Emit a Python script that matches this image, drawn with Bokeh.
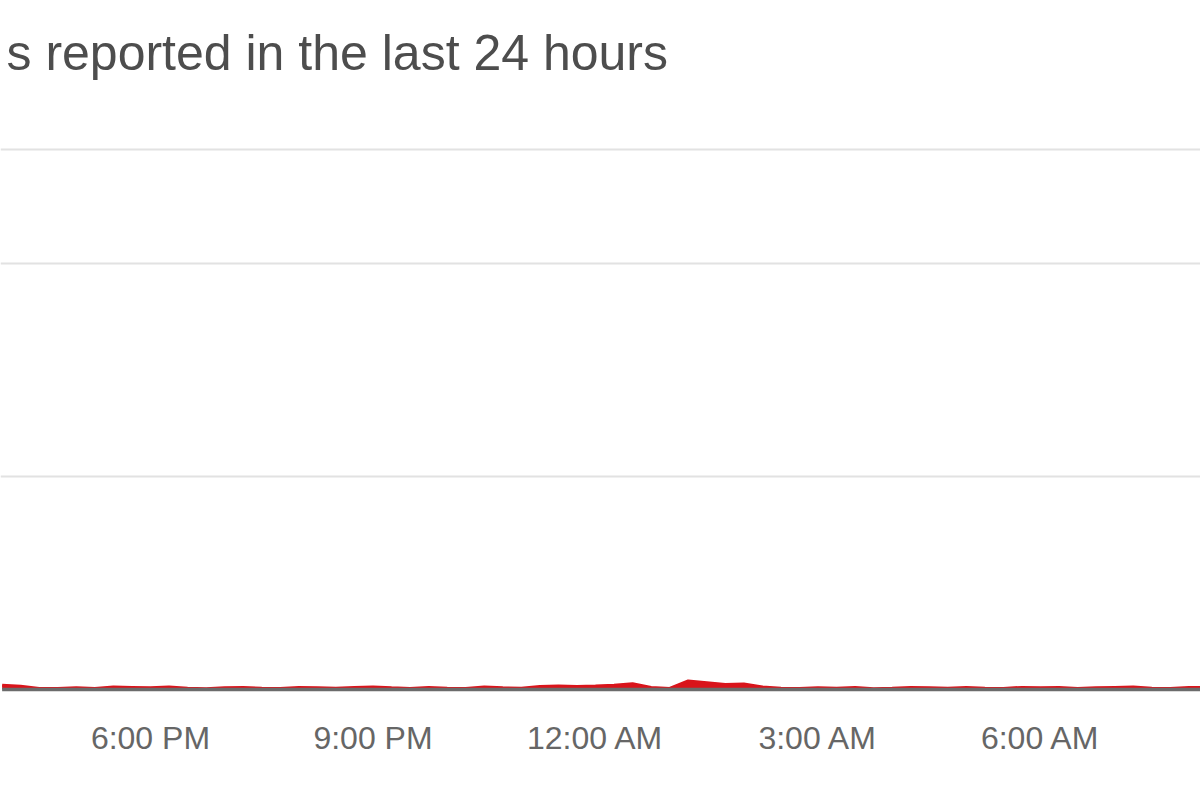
from bokeh.plotting import figure
from bokeh.models import Range1d, FixedTicker, Label, ColumnDataSource
from bokeh.embed import file_html
from bokeh.resources import INLINE

# ---- data ----
TITLE = "s reported in the last 24 hours"
START_HOUR = 16.0          # 4:00 PM, samples every 15 minutes
STEP = 0.25
REPORTS = [0.20, 0.15, 0.05, 0.05, 0.08, 0.05, 0.12, 0.10,
           0.08, 0.12, 0.06, 0.04, 0.08, 0.10, 0.06, 0.05,
           0.10, 0.08, 0.06, 0.10, 0.12, 0.08, 0.05, 0.10,
           0.06, 0.05, 0.12, 0.08, 0.06, 0.14, 0.16, 0.14,
           0.16, 0.20, 0.27, 0.10, 0.05, 0.40, 0.32, 0.24,
           0.26, 0.12, 0.06, 0.05, 0.08, 0.06, 0.10, 0.04,
           0.06, 0.10, 0.08, 0.06, 0.10, 0.06, 0.05, 0.10,
           0.08, 0.10, 0.05, 0.08, 0.10, 0.12, 0.06, 0.05,
           0.10, 0.10]
HOURS = [START_HOUR + STEP * i for i in range(len(REPORTS))]
TICK_HOURS = [18, 21, 24, 27, 30]
TICK_LABELS = ["6:00 PM", "9:00 PM", "12:00 AM", "3:00 AM", "6:00 AM"]
GRID_VALUES = [10, 20, 25.35]

src = ColumnDataSource(dict(x=HOURS, y=REPORTS, zero=[0] * len(REPORTS)))

p = figure(width=1200, height=800, output_backend="svg", toolbar_location=None,
           x_range=Range1d(15.978, 32.157), y_range=Range1d(-0.516, 32.35),
           min_border_left=0, min_border_right=0, min_border_top=0,
           min_border_bottom=100, y_axis_location=None)
p.outline_line_color = None
p.background_fill_color = "white"
p.border_fill_color = "white"

p.xgrid.visible = False
p.ygrid.ticker = FixedTicker(ticks=GRID_VALUES)
p.ygrid.grid_line_color = "#e2e2e2"
p.ygrid.grid_line_width = 2

xa = p.xaxis[0]
xa.ticker = FixedTicker(ticks=TICK_HOURS)
xa.major_label_overrides = {h: l for h, l in zip(TICK_HOURS, TICK_LABELS)}
xa.axis_line_color = None
xa.major_tick_line_color = None
xa.minor_tick_line_color = None
xa.major_label_text_font = "Liberation Sans"
xa.major_label_text_font_size = "32px"
xa.major_label_text_color = "#666666"
xa.major_label_standoff = 13

p.varea(x="x", y1="zero", y2="y", source=src, fill_color="#d9141b")
p.line(x="x", y="y", source=src, line_color="#d9141b", line_width=3)
p.line(x="x", y="zero", source=src, line_color="#6b6b6b", line_width=3.5)

p.add_layout(Label(x=6, y=648, x_units="screen", y_units="screen", text=TITLE,
                   text_font="Liberation Sans", text_font_size="50px",
                   text_color="#4d4d4d", text_baseline="alphabetic"))

open("out.html", "w").write(file_html(p, INLINE))
